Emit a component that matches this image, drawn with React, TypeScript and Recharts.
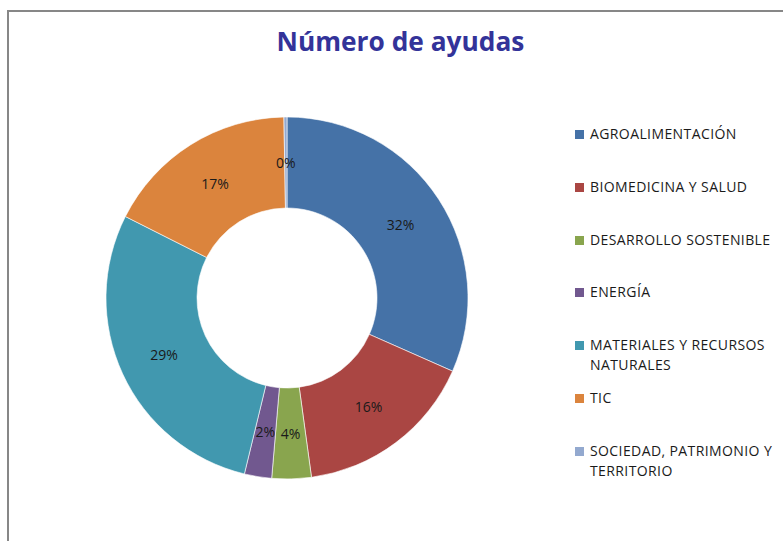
import React from "react";
import { PieChart, Pie, Cell } from "recharts";

const categories = [
  "AGROALIMENTACIÓN",
  "BIOMEDICINA Y SALUD",
  "DESARROLLO SOSTENIBLE",
  "ENERGÍA",
  "MATERIALES Y RECURSOS NATURALES",
  "TIC",
  "SOCIEDAD, PATRIMONIO Y TERRITORIO",
];
const legendLines = [
  ["AGROALIMENTACIÓN"],
  ["BIOMEDICINA Y SALUD"],
  ["DESARROLLO SOSTENIBLE"],
  ["ENERGÍA"],
  ["MATERIALES Y RECURSOS", "NATURALES"],
  ["TIC"],
  ["SOCIEDAD, PATRIMONIO Y", "TERRITORIO"],
];
const values = [117, 60, 13, 9, 106, 64, 1];
const colors = ["#4572A7", "#AA4643", "#89A54E", "#71588F", "#4198AF", "#DB843D", "#93A9CF"];

const data = categories.map((name, i) => ({ name, value: values[i] }));

const FONT = "'Open Sans', 'Liberation Sans', sans-serif";
const RAD = Math.PI / 180;

const renderLabel = (props: any) => {
  const { cx, cy, midAngle, innerRadius, outerRadius, percent } = props;
  const r = (innerRadius + outerRadius) / 2;
  const x = cx + r * Math.cos(-midAngle * RAD);
  const y = cy + r * Math.sin(-midAngle * RAD);
  return (
    <text x={x} y={y} textAnchor="middle" dominantBaseline="central" fontFamily={FONT} fontSize={14} fill="#1a1a1a">
      {Math.round(percent * 100) + "%"}
    </text>
  );
};

const LegendBlock = () => (
  <div style={{ position: "absolute", left: 575, top: 124, width: 210, height: 370, fontFamily: FONT, fontSize: 14, letterSpacing: 0.4, color: "#1a1a1a" }}>
    {legendLines.map((lines, i) => (
      <div key={i} style={{ position: "absolute", left: 0, top: i * 52.8, lineHeight: "20px", whiteSpace: "nowrap" }}>
        <span style={{ position: "absolute", left: 0, top: 6, width: 9, height: 9, background: colors[i] }} />
        <div style={{ marginLeft: 15 }}>
          {lines.map((l, j) => (
            <div key={j}>{l}</div>
          ))}
        </div>
      </div>
    ))}
  </div>
);

export default function App() {
  return (
    <div style={{ position: "absolute", left: 0, top: 0, width: 783, height: 541, background: "#fff", overflow: "hidden" }}>
      <div style={{ position: "absolute", left: 7, top: 10, width: 800, height: 560, borderLeft: "2px solid #878787", borderTop: "2px solid #878787" }} />
      <div style={{ position: "absolute", left: 0, top: 23, width: 801, textAlign: "center", fontFamily: FONT, fontWeight: 700, fontSize: 26.3, color: "#333399" }}>
        Número de ayudas
      </div>
      <div style={{ position: "absolute", left: 0, top: 0 }}>
        <PieChart width={783} height={541} margin={{ top: 0, right: 0, bottom: 0, left: 0 }}>
          <Pie
            data={data}
            dataKey="value"
            nameKey="name"
            cx={287}
            cy={298}
            innerRadius={90}
            outerRadius={181}
            startAngle={90}
            endAngle={-270}
            stroke="#fff"
            strokeWidth={0.6}
            label={renderLabel}
            labelLine={false}
            isAnimationActive={false}
          >
            {data.map((d, i) => (
              <Cell key={d.name} fill={colors[i]} />
            ))}
          </Pie>
        </PieChart>
      </div>
      <LegendBlock />
    </div>
  );
}
